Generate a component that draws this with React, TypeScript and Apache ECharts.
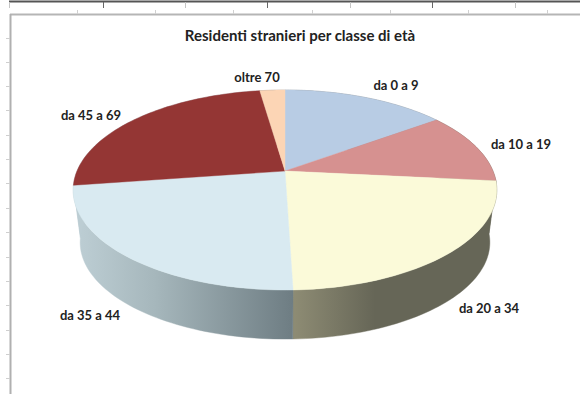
import React, { useEffect, useRef } from "react";
import * as echarts from "echarts";

const title = "Residenti stranieri per classe di età";
const categories = ["da 0 a 9", "da 10 a 19", "da 20 a 34", "da 35 a 44", "da 45 a 69", "oltre 70"];
const shares = [15.0, 11.6, 22.9, 23.2, 25.0, 2.3];
const topColors = ["#b8cce4", "#d69190", "#fbfad9", "#d9eaf1", "#943634", "#fcd5b5"];
const topRulerTicks = [77, 155, 233, 312, 390, 468, 547];
const outerRulerTicks = [9, 103, 185, 267, 350, 432, 515];
const leftRulerTicks = [38, 62, 86, 110, 135, 159, 183, 208, 232, 257, 281, 305, 330, 354, 378];

const total = shares.reduce((a, b) => a + b, 0);
const startShares = shares.map((_, i) => shares.slice(0, i).reduce((a, b) => a + b, 0));

// projected pie: perspective circle with apex at the visual centre
const CX = 285, CY = 171, AX = 208, BY = 96.4, K = 0.19, DROP = 53, BASE = 0.967;
function project(deg: number, scale = 1, dy = 0): [number, number] {
  const t = (deg * Math.PI) / 180;
  const u = Math.sin(t), v = Math.cos(t);
  const d = 1 + K * v;
  return [CX + (scale * AX * u) / d, CY + dy - (scale * BY * v) / d];
}
function arc(a: number, b: number, scale = 1, dy = 0) {
  const n = Math.max(2, Math.ceil(Math.abs(b - a) / 1.5));
  const pts: [number, number][] = [];
  for (let i = 0; i <= n; i++) pts.push(project(a + ((b - a) * i) / n, scale, dy));
  return pts;
}

const sideFill = (i: number) => {
  if (i === 3)
    return new echarts.graphic.LinearGradient(80, 0, 293, 0, [
      { offset: 0, color: "#bccdd3" },
      { offset: 0.35, color: "#a6b7bc" },
      { offset: 1, color: "#6e7d83" },
    ], true);
  if (i === 2)
    return new echarts.graphic.LinearGradient(293, 0, 375, 0, [
      { offset: 0, color: "#8e8c74" },
      { offset: 1, color: "#666657" },
    ], true);
  // slivers of the neighbouring slices past the silhouette take the adjacent wall's shade
  return i === 1 ? "#666657" : i === 4 ? "#bccdd3" : "#888888";
};

const labelPos: Record<string, [number, number]> = {
  "da 0 a 9": [396, 85],
  "da 10 a 19": [521, 144],
  "da 20 a 34": [489, 308],
  "da 35 a 44": [90, 315],
  "da 45 a 69": [91, 115],
  "oltre 70": [257, 77],
};

const font = "Lato, Carlito, 'Open Sans', sans-serif";
const tick = (x1: number, y1: number, x2: number, y2: number, stroke: string, lineWidth = 1) => ({
  type: "line", silent: true, shape: { x1, y1, x2, y2 }, style: { stroke, lineWidth },
});

export default function App() {
  const ref = useRef<HTMLDivElement>(null);
  useEffect(() => {
    document.body.style.margin = "0";
    const chart = echarts.init(ref.current!, undefined, { renderer: "svg" });
    const data = shares.map((s, i) => [s, startShares[i], i]);
    const angles = (api: any) => {
      const s = api.value(0), st = api.value(1);
      return [(st / total) * 360, ((st + s) / total) * 360];
    };
    chart.setOption({
      animation: false,
      backgroundColor: "#ffffff",
      title: {
        text: title, left: 295, top: 22, textAlign: "center",
        textStyle: { fontFamily: font, fontSize: 15, fontWeight: "bold", color: "#222222" },
      },
      graphic: [
        tick(9, 1.5, 580, 1.5, "#555555", 2),
        ...outerRulerTicks.map((x, i) => tick(x + 0.5, 2, x + 0.5, 8, i % 2 === 1 ? "#666666" : "#c4c4c4")),
        tick(10, 14.5, 580, 14.5, "#b5b5b5", 2),
        ...topRulerTicks.map((x) => tick(x + 0.5, 10, x + 0.5, 14, "#d0d0d0")),
        tick(10.5, 14, 10.5, 394, "#b0b0b0", 2),
        ...leftRulerTicks.map((y) => tick(6, y + 0.5, 10, y + 0.5, "#cfcfcf")),
      ],
      series: [
        {
          type: "custom", coordinateSystem: "none", silent: true, data, z: 1,
          renderItem: (_: any, api: any) => {
            const [a, b] = angles(api);
            const i = api.value(2);
            const points = [...arc(a, b), ...arc(b, a, BASE, DROP)];
            const fill = sideFill(i);
            return { type: "polygon", shape: { points }, style: { fill, stroke: fill, lineWidth: 0.4 } };
          },
        },
        {
          type: "custom", coordinateSystem: "none", silent: true, data, z: 2,
          renderItem: (_: any, api: any) => {
            const [a, b] = angles(api);
            const i = api.value(2);
            const points = [[CX, CY], ...arc(a, b)];
            return { type: "polygon", shape: { points }, style: { fill: topColors[i], stroke: topColors[i], lineWidth: 0.4 } };
          },
        },
        {
          type: "custom", coordinateSystem: "none", silent: true, data, z: 3,
          renderItem: (_: any, api: any) => {
            const name = categories[api.value(2)];
            const [x, y] = labelPos[name];
            return {
              type: "text", x, y,
              style: { text: name, fontFamily: font, fontSize: 13, fontWeight: "bold", fill: "#222222", align: "center", verticalAlign: "middle" },
            };
          },
        },
      ],
    });
    return () => chart.dispose();
  }, []);
  return <div ref={ref} style={{ width: 580, height: 394 }} />;
}
